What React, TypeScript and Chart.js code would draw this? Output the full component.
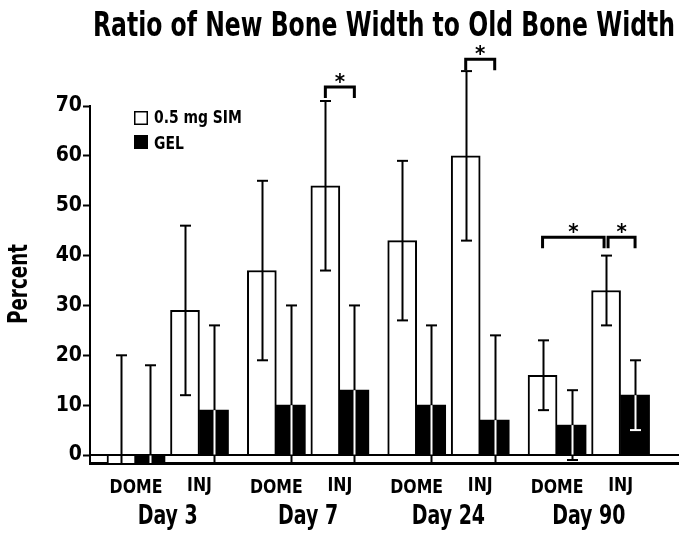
import React, { useEffect, useRef } from "react";
import { Chart, registerables } from "chart.js";

Chart.register(...registerables);

// ---- Data ----
const days = ["Day 3", "Day 7", "Day 24", "Day 90"];
const sites = ["DOME", "INJ", "DOME", "INJ", "DOME", "INJ", "DOME", "INJ"];
const seriesLabels = ["0.5 mg SIM", "GEL"];
const simMean = [-2, 29, 37, 54, 43, 60, 16, 33];
const simSD = [22, 17, 18, 17, 16, 17, 7, 7];
const gelMean = [-2, 9, 10, 13, 10, 7, 6, 12];
const gelSD = [20, 17, 20, 17, 16, 17, 7, 7];
const yTicks = [0, 10, 20, 30, 40, 50, 60, 70];
// significance brackets: from (category, dataset) to (category, dataset) at level
const sigFromCat = [3, 5, 6, 7];
const sigFromDs = [0, 0, 0, 0];
const sigToCat = [3, 5, 7, 7];
const sigToDs = [1, 1, 0, 1];
const sigLevel = [73.8, 79.4, 43.7, 43.7];
const titleText = "Ratio of New Bone Width to Old Bone Width";
const yTitle = "Percent";

// ---- Layout helpers ----
const DAY_GAP = 0.21;
const xPos = (i: number) => i + Math.floor(i / 2) * DAY_GAP;
const FONT = "'Liberation Sans Narrow', 'DejaVu Sans Condensed', 'Arial Narrow', sans-serif";

function drawText(
  ctx: CanvasRenderingContext2D,
  text: string,
  cx: number,
  cy: number,
  font: string,
  opts: { w?: number; sx?: number; align?: CanvasTextAlign } = {}
) {
  ctx.save();
  ctx.font = font;
  const m = ctx.measureText(text);
  const asc = m.actualBoundingBoxAscent;
  const desc = m.actualBoundingBoxDescent;
  const sx = opts.w ? opts.w / m.width : opts.sx ?? 1;
  ctx.translate(cx, cy + (asc - desc) / 2);
  ctx.scale(sx, 1);
  ctx.textAlign = opts.align ?? "center";
  ctx.textBaseline = "alphabetic";
  ctx.fillStyle = "#000";
  ctx.fillText(text, 0, 0);
  ctx.restore();
}

const decorPlugin = {
  id: "decor",
  afterDatasetsDraw(chart: any) {
    const { ctx, chartArea, scales } = chart;
    const y = scales.y;
    const x = scales.x;
    const yMin = y.min;

    // zero line
    const y0 = y.getPixelForValue(0);
    ctx.save();
    ctx.strokeStyle = "#000";
    ctx.lineWidth = 2;
    ctx.beginPath();
    ctx.moveTo(chartArea.left, y0);
    ctx.lineTo(chartArea.right, y0);
    ctx.stroke();

    // error bars
    const means = [simMean, gelMean];
    const sds = [simSD, gelSD];
    for (let di = 0; di < 2; di++) {
      const meta = chart.getDatasetMeta(di);
      meta.data.forEach((el: any, i: number) => {
        const cx = Math.round(el.x) + 0.5;
        const hi = means[di][i] + sds[di][i];
        const lo = means[di][i] - sds[di][i];
        const yHi = y.getPixelForValue(hi);
        const yLo = y.getPixelForValue(Math.max(lo, yMin));
        const barTop = Math.min(el.y, el.base);
        const barBot = Math.min(Math.max(el.y, el.base), chartArea.bottom);
        ctx.lineWidth = 2;
        ctx.strokeStyle = "#000";
        ctx.beginPath();
        ctx.moveTo(cx, yHi);
        ctx.lineTo(cx, yLo);
        ctx.stroke();
        if (di === 1) {
          const s = Math.max(yHi, barTop);
          const e = Math.min(yLo, barBot);
          if (e > s) {
            ctx.strokeStyle = "#fff";
            ctx.beginPath();
            ctx.moveTo(cx, s);
            ctx.lineTo(cx, e);
            ctx.stroke();
          }
        }
        const cap = (py: number) => {
          const inside = di === 1 && py > barTop + 0.5 && py < barBot - 0.5;
          ctx.strokeStyle = inside ? "#fff" : "#000";
          ctx.beginPath();
          ctx.moveTo(cx - 5.5, py);
          ctx.lineTo(cx + 5.5, py);
          ctx.stroke();
        };
        cap(yHi);
        if (lo >= yMin) cap(yLo);
      });
    }

    // significance brackets
    for (let k = 0; k < sigLevel.length; k++) {
      const a = chart.getDatasetMeta(sigFromDs[k]).data[sigFromCat[k]];
      const b = chart.getDatasetMeta(sigToDs[k]).data[sigToCat[k]];
      let xa = a.x;
      let xb = b.x;
      for (let j = 0; j < sigLevel.length; j++) {
        if (j === k || sigLevel[j] !== sigLevel[k]) continue;
        if (sigFromCat[j] === sigToCat[k] && sigFromDs[j] === sigToDs[k]) xb -= 2;
        if (sigToCat[j] === sigFromCat[k] && sigToDs[j] === sigFromDs[k]) xa += 2;
      }
      const yt = y.getPixelForValue(sigLevel[k]);
      ctx.strokeStyle = "#000";
      ctx.lineWidth = 3;
      ctx.lineJoin = "miter";
      ctx.beginPath();
      ctx.moveTo(xa, yt + 11);
      ctx.lineTo(xa, yt);
      ctx.lineTo(xb, yt);
      ctx.lineTo(xb, yt + 11);
      ctx.stroke();
      drawText(ctx, "*", (xa + xb) / 2, yt - 9, `bold 22px ${FONT}`);
    }
    ctx.restore();

    // x labels
    for (let i = 0; i < sites.length; i++) {
      drawText(ctx, sites[i], x.getPixelForValue(xPos(i)), 486, `bold 19px ${FONT}`, { sx: 0.92 });
    }
    for (let d = 0; d < days.length; d++) {
      const c = (x.getPixelForValue(xPos(2 * d)) + x.getPixelForValue(xPos(2 * d + 1))) / 2;
      drawText(ctx, days[d], c, 517, `bold 27px ${FONT}`, { sx: 0.78 });
    }

    // title
    drawText(ctx, titleText, 384, 23, `bold 33px ${FONT}`, { w: 582 });

    // y title
    ctx.save();
    ctx.translate(17, 284);
    ctx.rotate(-Math.PI / 2);
    drawText(ctx, yTitle, 0, 0, `bold 26px ${FONT}`, { w: 80 });
    ctx.restore();

    // legend
    const legendColors = ["#fff", "#000"];
    const legendY = [118, 142];
    for (let k = 0; k < 2; k++) {
      ctx.save();
      ctx.fillStyle = legendColors[k];
      ctx.fillRect(134, legendY[k] - 7, 14, 14);
      ctx.strokeStyle = "#000";
      ctx.lineWidth = 1.5;
      ctx.strokeRect(134.75, legendY[k] - 6.25, 12.5, 12.5);
      ctx.restore();
      drawText(ctx, seriesLabels[k], 154, legendY[k], `bold 18px ${FONT}`, { sx: 0.86, align: "left" });
    }
  },
};

export default function App() {
  const ref = useRef<HTMLCanvasElement>(null);
  useEffect(() => {
    const canvas = ref.current!;
    const chart = new Chart(canvas, {
      type: "bar",
      data: {
        datasets: [
          {
            label: seriesLabels[0],
            data: simMean.map((v, i) => ({ x: xPos(i), y: v })),
            backgroundColor: "#fff",
            borderColor: "#000",
            borderWidth: 2,
            barThickness: 29,
            clip: 0,
          } as any,
          {
            label: seriesLabels[1],
            data: gelMean.map((v, i) => ({ x: xPos(i), y: v })),
            backgroundColor: "#000",
            borderColor: "#000",
            borderWidth: 0,
            barThickness: 29,
            clip: 0,
          } as any,
        ],
      },
      options: {
        responsive: false,
        animation: false,
        layout: { padding: { top: 106, left: 0, right: 0, bottom: 0 } },
        plugins: {
          legend: { display: false },
          title: { display: false },
          tooltip: { enabled: false },
        },
        scales: {
          x: {
            type: "linear",
            min: -0.724,
            max: 8.55,
            offset: false,
            grid: { display: false },
            ticks: { display: false },
            border: { display: true, color: "#000", width: 3 },
            afterFit: (s: any) => {
              s.height = 76;
            },
          },
          y: {
            min: -1.6,
            max: 70,
            afterBuildTicks: (s: any) => {
              s.ticks = yTicks.map((v) => ({ value: v }));
            },
            ticks: {
              color: "#000",
              padding: 1,
              font: { family: FONT, size: 21, weight: "bold" },
            },
            grid: {
              drawOnChartArea: false,
              drawTicks: true,
              tickLength: 7,
              tickWidth: 2,
              tickColor: "#000",
            },
            border: { display: true, color: "#000", width: 2 },
            afterFit: (s: any) => {
              s.width = 90;
            },
          },
        },
      } as any,
      plugins: [decorPlugin],
    });
    return () => chart.destroy();
  }, []);
  return (
    <div style={{ position: "fixed", left: 0, top: 0, width: 679, height: 539, background: "#fff" }}>
      <canvas ref={ref} width={679} height={539} style={{ width: 679, height: 539, display: "block" }} />
    </div>
  );
}
